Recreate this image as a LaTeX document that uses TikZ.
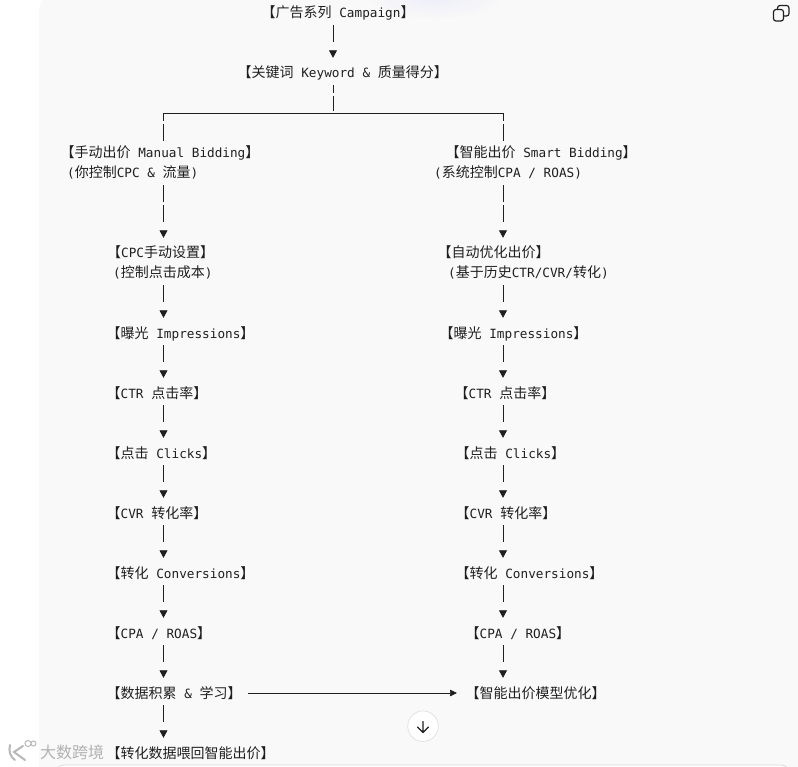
\documentclass[tikz,border=0pt]{standalone}
\usepackage{fontspec}
\setmonofont{DejaVu Sans Mono}
\newfontfamily\cjkfont{Noto Sans CJK SC}
\usetikzlibrary{arrows.meta}
\newcommand{\zh}[1]{{\fontsize{14}{20}\cjkfont #1}}
\definecolor{panelgray}{HTML}{F9F9F9}
\definecolor{inkgray}{HTML}{1F1F1F}
\tikzset{
    lbl/.style={anchor=west, inner sep=0pt, minimum height=20pt, text height=13pt, text depth=3pt, text=inkgray, font=\fontsize{12.7}{20}\selectfont\ttfamily},
    stem/.style={draw=inkgray, line width=0.8pt, dash pattern=on 17pt off 9pt, shorten <=2pt, shorten >=5pt, -{Triangle[length=7.5pt,width=8pt]}},
    tallstem/.style={stem, dash pattern=on 17pt off 3pt on 17pt off 20pt},
    drop/.style={draw=inkgray, line width=0.8pt, dash pattern=on 8pt off 3pt on 17pt off 20pt, shorten >=2pt},
}
\begin{document}
\begin{tikzpicture}[x=1pt, y=-1pt]
    \clip (0,0) rectangle (798,767);
    \fill[white] (0,0) rectangle (798,767);
    \fill[panelgray, rounded corners=13pt] (39,-3) rectangle (830,800);
    \shade[inner color=blue!5!panelgray, outer color=panelgray] (435,-4) ellipse (70 and 24);

    % Top of the tree
    \node[lbl] (campaign) at (261.5,13) {\zh{【广告系列} Campaign\zh{】}};
    \node[lbl] (keyword) at (237.5,73) {\zh{【关键词} Keyword \& \zh{质量得分】}};

    % Manual column
    \coordinate (lcol) at (163.5,0);
    \node[lbl] (manual) at (60.5,153) {\zh{【手动出价} Manual Bidding\zh{】}};
    \node[lbl] (manualsub) at (67,173) {(\zh{你控制}CPC \& \zh{流量})};
    \node[lbl] (cpc) at (107,253) {\zh{【}CPC\zh{手动设置】}};
    \node[lbl] (cpcsub) at (113,273) {(\zh{控制点击成本})};
    \node[lbl] (limp) at (106.5,333) {\zh{【曝光} Impressions\zh{】}};
    \node[lbl] (lctr) at (106.5,393) {\zh{【}CTR \zh{点击率】}};
    \node[lbl] (lclicks) at (106.5,453) {\zh{【点击} Clicks\zh{】}};
    \node[lbl] (lcvr) at (106.5,513) {\zh{【}CVR \zh{转化率】}};
    \node[lbl] (lconv) at (106.5,573) {\zh{【转化} Conversions\zh{】}};
    \node[lbl] (lcpa) at (106.5,633) {\zh{【}CPA / ROAS\zh{】}};
    \node[lbl] (accum) at (106.5,693) {\zh{【数据积累} \& \zh{学习】}};
    \node[lbl] (feedback) at (106.5,753) {\zh{【转化数据喂回智能出价】}};

    % Smart column
    \coordinate (rcol) at (503,0);
    \node[lbl] (smart) at (445.5,153) {\zh{【智能出价} Smart Bidding\zh{】}};
    \node[lbl] (smartsub) at (434,173) {(\zh{系统控制}CPA / ROAS)};
    \node[lbl] (auto) at (437.5,253) {\zh{【自动优化出价】}};
    \node[lbl] (autosub) at (448,273) {(\zh{基于历史}CTR/CVR/\zh{转化})};
    \node[lbl] (rimp) at (439.5,333) {\zh{【曝光} Impressions\zh{】}};
    \node[lbl] (rctr) at (454.5,393) {\zh{【}CTR \zh{点击率】}};
    \node[lbl] (rclicks) at (455.5,453) {\zh{【点击} Clicks\zh{】}};
    \node[lbl] (rcvr) at (455.5,513) {\zh{【}CVR \zh{转化率】}};
    \node[lbl] (rconv) at (455.5,573) {\zh{【转化} Conversions\zh{】}};
    \node[lbl] (rcpa) at (465.5,633) {\zh{【}CPA / ROAS\zh{】}};
    \node[lbl] (smartopt) at (465.5,693) {\zh{【智能出价模型优化】}};

    % Connectors
    \draw[stem] (campaign.south -| 333,0) -- (keyword.north -| 333,0);
    \coordinate (fork) at (333,113.5);
    \draw[drop] (keyword.south -| fork) ++(0,2) -- (fork);
    \draw[draw=inkgray, line width=0.8pt] (fork -| lcol) -- (fork -| rcol);
    \draw[drop] (fork -| lcol) -- (manual.north -| lcol);
    \draw[drop] (fork -| rcol) -- (smart.north -| rcol);
    \draw[tallstem] (manualsub.south -| lcol) -- (cpc.north -| lcol);
    \draw[tallstem] (smartsub.south -| rcol) -- (auto.north -| rcol);
    \foreach \a/\b in {cpcsub/limp, limp/lctr, lctr/lclicks, lclicks/lcvr, lcvr/lconv, lconv/lcpa, lcpa/accum, accum/feedback}
        \draw[stem] (\a.south -| lcol) -- (\b.north -| lcol);
    \foreach \a/\b in {autosub/rimp, rimp/rctr, rctr/rclicks, rclicks/rcvr, rcvr/rconv, rconv/rcpa, rcpa/smartopt}
        \draw[stem] (\a.south -| rcol) -- (\b.north -| rcol);
    \draw[draw=inkgray, line width=0.7pt, shorten <=6.5pt, shorten >=8.5pt, -{Triangle[length=7pt,width=6.5pt]}] (accum.east) -- (smartopt.west);

    % Scroll button and copy icon
    \node[circle, draw=black!12, fill=white, line width=0.7pt, minimum size=30.5pt, inner sep=0pt] (scrolldown) at (423,726.2) {};
    \draw[inkgray, line width=1.1pt, line cap=round, line join=round] (423,721.5) -- (423,732.5) (417.5,727) -- (423,732.5) -- (428.5,727);
    \draw[inkgray, line width=1.2pt, rounded corners=2.5pt] (773.5,9.5) rectangle (783.5,21);
    \draw[inkgray, line width=1.2pt, rounded corners=2.5pt] (777.5,9.5) -- (777.5,5.5) -- (789,5.5) -- (789,16) -- (783.5,16);

    % Input box and watermark
    \draw[black!14, fill=white, rounded corners=9pt, line width=0.8pt] (55,765) rectangle (790,800);
    \node[anchor=west, inner sep=0pt, text=black!30, font=\fontsize{16}{16}\cjkfont] (mark) at (40,752) {大数跨境};
    \draw[black!28, line width=2pt, line cap=round] (10,745) .. controls (8.5,751) and (10,757) .. (15,760) (23,746) -- (14,752) -- (25,760);
    \draw[black!28, line width=1pt] (28,743.5) circle (3) (33.5,743.5) circle (2.5);
\end{tikzpicture}
\end{document}
